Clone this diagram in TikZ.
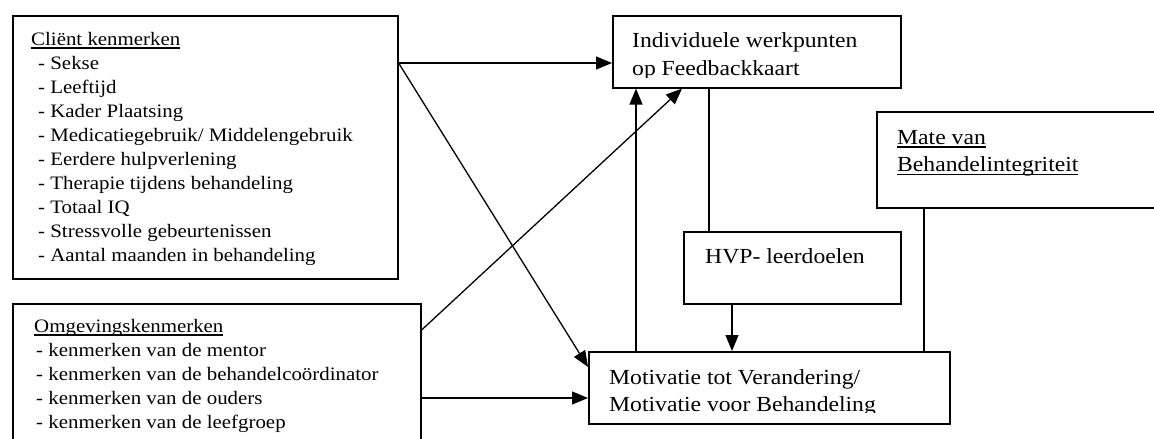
\documentclass[tikz,border=0pt]{standalone}
\usepackage{fontspec}
\setmainfont[FakeStretch=1.1]{Liberation Serif}
\usetikzlibrary{arrows.meta,calc}

\newsavebox\onderbox
\newcommand{\onder}[1]{\sbox\onderbox{#1}\rlap{\rule[-3.6pt]{\wd\onderbox}{1.3pt}}\usebox\onderbox}

\tikzset{
  kader/.style={draw,line width=1.6pt,inner sep=0pt,anchor=north west},
  tekst/.style={inner sep=0pt,anchor=base west,font=\fontsize{19}{24}\selectfont},
  groot/.style={tekst,font=\fontsize{21.5}{27}\selectfont},
  pijl/.style={line width=1.3pt,-{Triangle[length=16pt,width=13pt]}},
  lijn/.style={line width=1.3pt}
}

\begin{document}
\begin{tikzpicture}[x=1pt,y=-1pt]
  \clip (0,0) rectangle (1154,439);

  % kaders
  \node[kader,minimum width=385pt,minimum height=263pt] (client) at (12,15) {};
  \node[kader,minimum width=408pt,minimum height=170pt] (omg) at (12,303) {};
  \node[kader,minimum width=288pt,minimum height=72pt] (indiv) at (612,15) {};
  \node[kader,minimum width=300pt,minimum height=96pt] (mate) at (876,111) {};
  \node[kader,minimum width=217pt,minimum height=72pt] (hvp) at (683,231) {};
  \node[kader,minimum width=361pt,minimum height=72pt] (motiv) at (588,351) {};

  % teksten
  \begin{scope}
    \clip (client.north west) rectangle ($(client.south east)+(0,-15)$);
    \node[tekst] (clkop) at (31,45) {\onder{Cliënt kenmerken}};
    \foreach \regel [count=\i] in {Sekse,Leeftijd,Kader Plaatsing,
        Medicatiegebruik/ Middelengebruik,Eerdere hulpverlening,
        Therapie tijdens behandeling,Totaal IQ,Stressvolle gebeurtenissen,
        Aantal maanden in behandeling}
      \node[tekst] (cl-\i) at (38,45+24*\i) {- \regel};
  \end{scope}

  \node[tekst] (omgkop) at (34,332) {\onder{Omgevingskenmerken}};
  \foreach \regel [count=\i] in {mentor,behandelcoördinator,ouders,leefgroep}
    \node[tekst] (omg-\i) at (36,332+24*\i) {- kenmerken van de \regel};

  \begin{scope}
    \clip (indiv.north west) rectangle ($(indiv.south east)+(0,-11)$);
    \node[groot] (indiv-1) at (632,47) {Individuele werkpunten};
    \node[groot] (indiv-2) at (632,75) {op Feedbackkaart};
  \end{scope}

  \node[groot] (mate-1) at (897,144) {\onder{Mate van}};
  \node[groot] (mate-2) at (897,171.5) {\onder{Behandelintegriteit}};

  \node[groot] (hvp-1) at (705,263) {HVP- leerdoelen};

  \begin{scope}
    \clip (motiv.north west) rectangle ($(motiv.south east)+(0,-12)$);
    \node[groot] (motiv-1) at (609,384) {Motivatie tot Verandering/};
    \node[groot] (motiv-2) at (609,411.5) {Motivatie voor Behandeling};
  \end{scope}

  % verbindingen
  \draw[pijl] ($(client.north east)+(0,48)$) -- ($(indiv.north west)+(0,48)$);
  \draw[pijl] ($(client.north east)+(0,48)$) -- ($(motiv.north west)+(0,16)$);
  \draw[pijl] ($(omg.north east)+(0,27)$) -- ($(indiv.south west)+(70,0)$);
  \draw[pijl] ($(omg.north east)+(0,95)$) -- ($(motiv.north west)+(0,47)$);
  \draw[pijl] ($(motiv.north west)+(48,0)$) -- ($(indiv.south west)+(24,0)$);
  \draw[lijn] ($(indiv.south west)+(97,0)$) -- ($(hvp.north west)+(26,0)$);
  \draw[pijl] ($(hvp.south west)+(49,0)$) -- ($(motiv.north west)+(144,0)$);
  \draw[lijn] ($(mate.south west)+(48,0)$) -- ($(motiv.north west)+(336,0)$);
\end{tikzpicture}
\end{document}
